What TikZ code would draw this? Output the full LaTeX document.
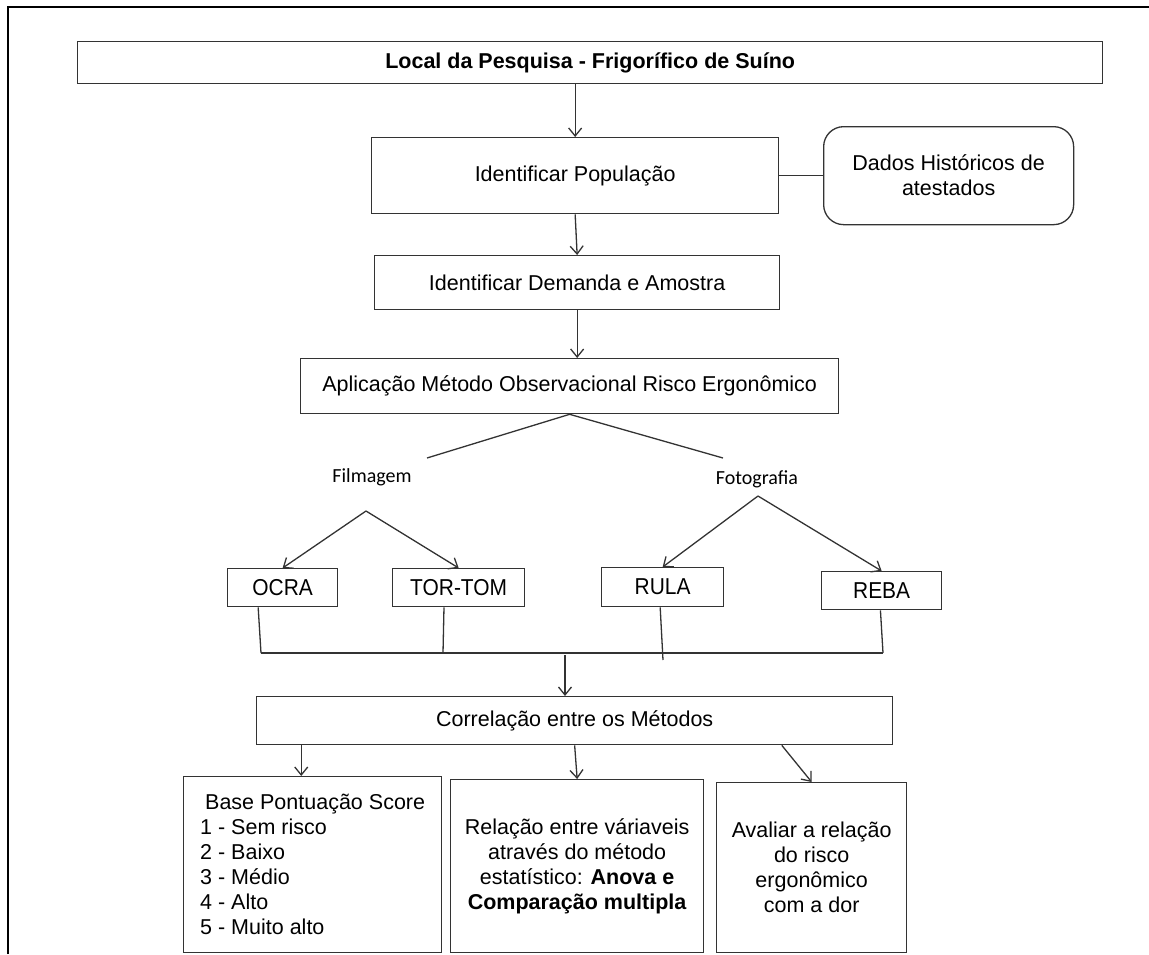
\documentclass[tikz,border=0pt]{standalone}
\usepackage{fontspec}
\setmainfont{Liberation Sans}
\newfontfamily\calibfont{Carlito}
\newfontfamily\narrowfont[FakeStretch=0.91]{Liberation Sans}
\usetikzlibrary{arrows.meta,calc}

\tikzset{
  box/.style={draw=black!80, line width=1.3pt, inner sep=0pt, anchor=north west,
    align=center, font=\fontsize{21.5}{25}\selectfont},
  methodbox/.style={box, font=\narrowfont\fontsize{23}{27}\selectfont},
  link/.style={draw=black!80, line width=1.3pt},
  arr/.style={link, -{Straight Barb[length=8pt,width=13pt]}},
  branchlabel/.style={font=\calibfont\fontsize{20}{24}\selectfont, inner sep=0pt},
}

\begin{document}
\begin{tikzpicture}[x=1pt,y=-1pt]
\useasboundingbox (0,0) rectangle (1149,954);

% page frame
\draw[line width=2pt] (8,954) -- (8,7) -- (1149,7);

% main flow
\node[box, minimum width=1025pt, minimum height=42pt] (local) at (77,41)
  {\bfseries Local da Pesquisa - Frigorífico de Suíno};
\node[box, minimum width=407pt, minimum height=76pt] (pop) at (371,137)
  {Identificar População};
\node[box, rounded corners=20pt, minimum width=250pt, minimum height=98pt] (dados) at (823,126)
  {Dados Históricos de\\atestados};
\node[box, minimum width=405pt, minimum height=54pt] (dem) at (374,255)
  {Identificar Demanda e Amostra};
\node[box, minimum width=538pt, minimum height=55pt] (apl) at (300,358)
  {Aplicação Método Observacional Risco Ergonômico};

% capture modes
\node[branchlabel] (film) at (372,477) {Filmagem};
\node[branchlabel] (foto) at (757,479) {Fotografia};

% methods
\node[methodbox, minimum width=110pt, minimum height=38pt] (ocra) at (227,568) {OCRA};
\node[methodbox, minimum width=132pt, minimum height=38pt] (tor) at (392,568) {TOR-TOM};
\node[methodbox, minimum width=122pt, minimum height=39pt] (rula) at (601,567) {RULA};
\node[methodbox, minimum width=120pt, minimum height=38pt] (reba) at (821,571) {REBA};

% analysis
\node[box, minimum width=636pt, minimum height=48pt] (corr) at (256,696)
  {Correlação entre os Métodos};
\node[box, align=left, minimum width=258pt, minimum height=176pt] (base) at (183,776)
  {\hspace{5pt}Base Pontuação Score\\1 - Sem risco\\2 - Baixo\\3 - Médio\\4 - Alto\\5 - Muito alto};
\node[box, minimum width=253pt, minimum height=173pt] (rel) at (450,779)
  {Relação entre váriaveis\\através do método\\estatístico: \textbf{Anova e}\\\textbf{Comparação multipla}};
\node[box, minimum width=190pt, minimum height=170pt] (aval) at (716,782)
  {Avaliar a relação\\do risco\\ergonômico\\com a dor};

% junction points
\coordinate (fl) at (427,458);
\coordinate (fr) at (723,458);
\coordinate (fa) at (366,511);
\coordinate (fo) at (758,496);
\coordinate (j1) at (261,653);
\coordinate (j2) at (443,653);
\coordinate (j3) at (663,660);
\coordinate (j4) at (883,653);
\coordinate (bm) at (565,655);

% connectors
\draw[arr] (local.south -| pop.north) -- (pop.north);
\draw[link] (pop.east) -- (dados.west);
\draw[arr] (pop.south) -- (dem.north);
\draw[arr] (dem.south) -- (dem.south |- apl.north);
\draw[link] (fl) -- (apl.south) -- (fr);

\draw[arr] (fa) -- (ocra.north);
\draw[arr] (fa) -- (tor.north);
\draw[arr] (fo) -- (rula.north);
\draw[arr] (fo) -- (reba.north);

\draw[link] ($(ocra.south west)!0.28!(ocra.south east)$) -- (j1);
\draw[link] ($(tor.south west)!0.39!(tor.south east)$) -- (j2);
\draw[link] ($(rula.south west)!0.48!(rula.south east)$) -- (j3);
\draw[link] ($(reba.south west)!0.49!(reba.south east)$) -- (j4);
\draw[link] (j1) -- (j4);
\draw[arr] (bm) -- (bm |- corr.north);

\path ($(corr.south west)!0.071!(corr.south east)$) coordinate (s1);
\path ($(corr.south west)!0.825!(corr.south east)$) coordinate (s3);
\draw[arr] (s1) -- (s1 |- base.north);
\draw[arr] (corr.south) -- (rel.north);
\draw[arr] (s3) -- (aval.north);
\end{tikzpicture}
\end{document}
